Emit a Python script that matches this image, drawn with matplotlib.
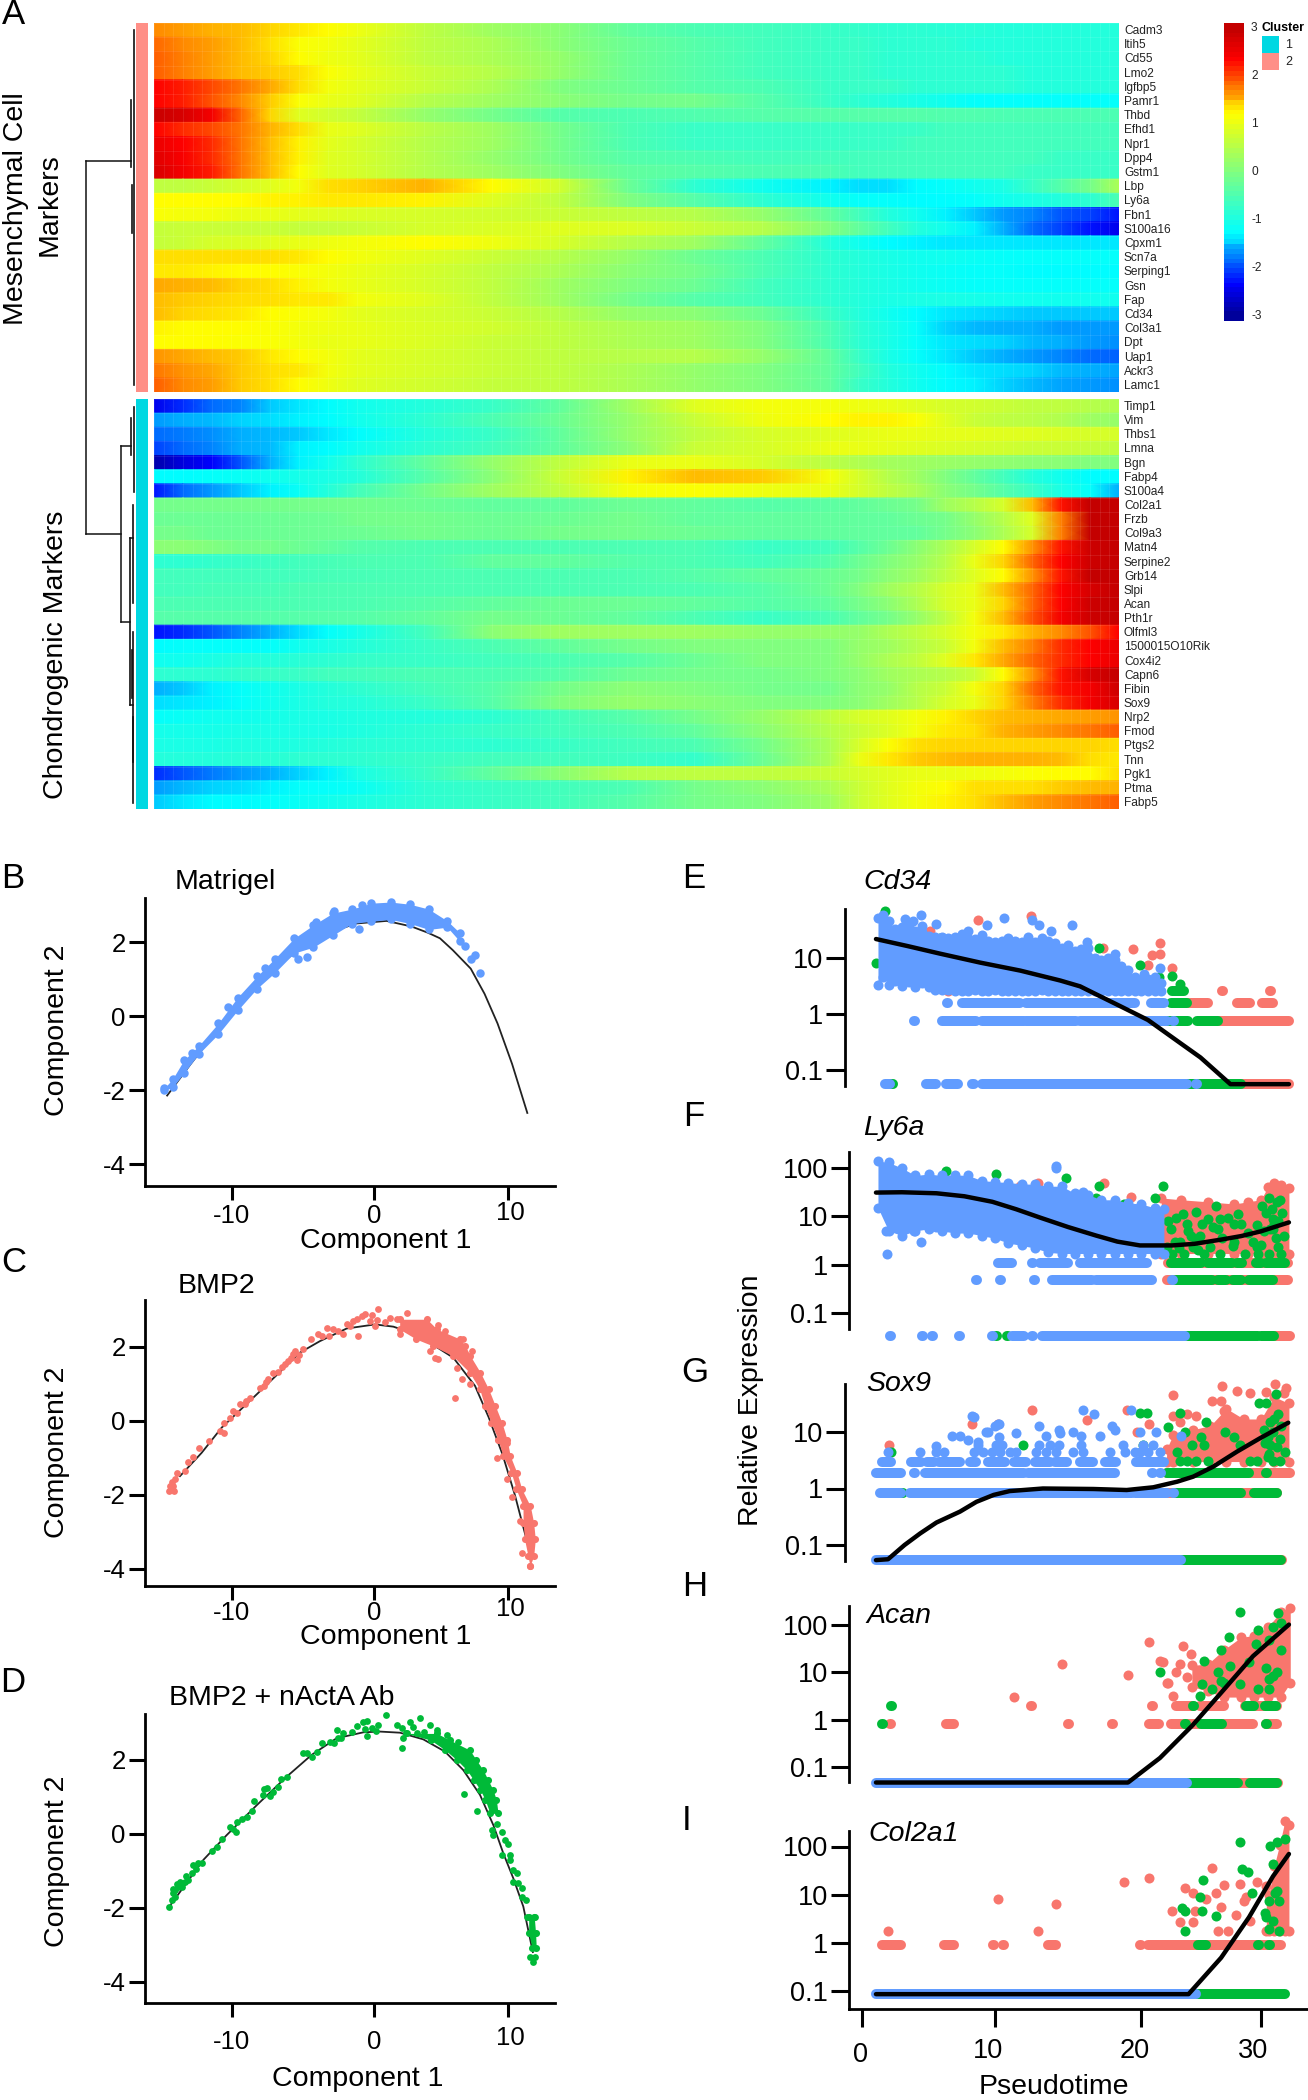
import numpy as np
import matplotlib
matplotlib.use('agg')
from matplotlib import pyplot as plt
from matplotlib.colors import LinearSegmentedColormap, ListedColormap, Normalize

plt.rcParams['font.family'] = ['Liberation Sans', 'DejaVu Sans']

W, H = 1308, 2100
BLUE, RED, GREEN = '#619CFF', '#F8766D', '#00BA38'

# heatmap: values at these cell positions of the 100 pseudotime cells
heat_cells = [0, 3, 6, 9, 12, 15, 18, 21, 28, 35, 42, 49, 56, 63, 70, 73, 76, 79, 82, 85, 88, 91, 94, 97, 100]

genes_top = ['Cadm3', 'Itih5', 'Cd55', 'Lmo2', 'Igfbp5', 'Pamr1', 'Thbd', 'Efhd1', 'Npr1', 'Dpp4', 'Gstm1', 'Lbp', 'Ly6a',
             'Fbn1', 'S100a16', 'Cpxm1', 'Scn7a', 'Serping1', 'Gsn', 'Fap', 'Cd34', 'Col3a1', 'Dpt', 'Uap1', 'Ackr3', 'Lamc1']
genes_bottom = ['Timp1', 'Vim', 'Thbs1', 'Lmna', 'Bgn', 'Fabp4', 'S100a4', 'Col2a1', 'Frzb', 'Col9a3', 'Matn4', 'Serpine2',
                'Grb14', 'Slpi', 'Acan', 'Pth1r', 'Olfml3', '1500015O10Rik', 'Cox4i2', 'Capn6', 'Fibin', 'Sox9', 'Nrp2',
                'Fmod', 'Ptgs2', 'Tnn', 'Pgk1', 'Ptma', 'Fabp5']

heat_top = [
    [1.75,1.65,1.55,1.5,1.4,1.3,1.2,1.05,0.6,0.3,0.1,-0.3,-0.5,-0.6,-0.7,-0.75,-0.8,-0.8,-0.85,-0.85,-0.9,-0.9,-0.9,-0.9,-0.9],
    [1.9,1.75,1.65,1.5,1.35,1.15,1.1,0.95,0.6,0.4,0.1,-0.2,-0.4,-0.6,-0.7,-0.7,-0.8,-0.8,-0.8,-0.9,-0.9,-0.9,-0.9,-0.9,-0.9],
    [1.95,1.8,1.65,1.5,1.4,1.2,1.05,0.95,0.6,0.4,0.2,-0.2,-0.4,-0.6,-0.7,-0.7,-0.8,-0.8,-0.8,-0.8,-0.9,-0.9,-0.9,-0.9,-0.9],
    [1.95,1.8,1.65,1.5,1.45,1.35,1.15,1.0,0.7,0.5,0.2,-0.2,-0.4,-0.6,-0.7,-0.7,-0.8,-0.8,-0.8,-0.8,-0.8,-0.9,-0.9,-0.9,-0.9],
    [2.4,2.25,2.05,1.85,1.6,1.35,1.1,0.95,0.7,0.4,0.0,-0.2,-0.4,-0.5,-0.7,-0.7,-0.7,-0.8,-0.8,-0.8,-0.8,-0.9,-0.9,-0.9,-0.9],
    [2.4,2.25,2.0,1.75,1.45,1.15,1.0,0.9,0.5,0.3,0.1,-0.1,-0.1,-0.4,-0.7,-0.8,-0.9,-1.0,-1.1,-1.2,-1.2,-1.2,-1.2,-1.2,-1.2],
    [2.95,2.8,2.5,1.9,1.4,0.9,0.75,0.65,0.2,-0.1,-0.4,-0.5,-0.45,-0.4,-0.4,-0.4,-0.4,-0.4,-0.45,-0.45,-0.5,-0.5,-0.5,-0.5,-0.5],
    [2.4,2.2,2.05,1.85,1.55,1.35,1.0,0.9,0.55,0.3,-0.1,-0.5,-0.7,-0.7,-0.7,-0.7,-0.7,-0.7,-0.6,-0.6,-0.6,-0.6,-0.6,-0.6,-0.6],
    [2.6,2.4,2.2,1.85,1.5,1.25,0.95,0.8,0.5,0.3,-0.1,-0.5,-0.7,-0.7,-0.7,-0.7,-0.7,-0.6,-0.6,-0.6,-0.6,-0.6,-0.6,-0.6,-0.6],
    [2.7,2.45,2.2,1.85,1.5,1.25,0.9,0.8,0.5,0.2,-0.1,-0.4,-0.5,-0.6,-0.6,-0.6,-0.6,-0.6,-0.6,-0.6,-0.6,-0.6,-0.7,-0.7,-0.7],
    [2.8,2.5,2.25,1.85,1.5,1.2,0.9,0.8,0.5,0.3,0.0,-0.3,-0.4,-0.5,-0.5,-0.6,-0.6,-0.6,-0.6,-0.6,-0.6,-0.7,-0.7,-0.7,-0.7],
    [0.6,0.6,0.7,0.8,0.9,1.1,1.35,1.4,1.55,1.2,0.75,-0.2,-0.8,-1.1,-1.3,-1.4,-1.4,-1.25,-1.2,-1.1,-1.0,-0.7,-0.4,-0.1,0.4],
    [1.2,1.2,1.2,1.2,1.25,1.25,1.3,1.3,1.25,0.9,0.6,0.0,-0.4,-0.8,-1.1,-1.2,-1.2,-1.25,-1.25,-1.2,-1.1,-1.0,-0.9,-0.8,-0.5],
    [1.15,1.1,1.1,1.0,1.0,0.95,0.9,0.85,0.8,0.75,0.7,0.6,0.5,0.2,-0.3,-0.6,-0.9,-1.1,-1.3,-1.5,-1.7,-1.8,-2.0,-2.1,-2.3],
    [0.65,0.7,0.7,0.7,0.7,0.65,0.65,0.7,0.8,0.85,0.9,0.85,0.7,0.5,0.0,-0.3,-0.6,-0.9,-1.1,-1.3,-1.6,-1.9,-2.1,-2.3,-2.5],
    [0.65,0.7,0.8,0.85,0.9,1.0,1.05,1.1,1.2,1.05,0.8,0.5,0.3,-0.3,-0.9,-1.1,-1.25,-1.3,-1.35,-1.35,-1.35,-1.35,-1.35,-1.35,-1.35],
    [1.35,1.35,1.35,1.35,1.35,1.3,1.2,1.1,0.9,0.7,0.5,0.2,-0.2,-0.5,-0.8,-0.9,-1.0,-1.1,-1.1,-1.15,-1.2,-1.2,-1.2,-1.2,-1.2],
    [1.3,1.3,1.25,1.2,1.2,1.15,1.1,1.0,0.8,0.6,0.4,0.1,-0.1,-0.5,-0.8,-0.9,-1.0,-1.1,-1.15,-1.2,-1.2,-1.25,-1.25,-1.25,-1.25],
    [1.6,1.55,1.5,1.4,1.35,1.25,1.1,1.0,0.8,0.6,0.3,0.0,-0.2,-0.6,-0.8,-0.9,-1.0,-1.1,-1.15,-1.2,-1.2,-1.2,-1.2,-1.2,-1.2],
    [1.5,1.45,1.4,1.35,1.35,1.3,1.3,1.1,0.9,0.6,0.3,-0.1,-0.4,-0.6,-0.8,-0.9,-1.0,-1.0,-1.0,-1.05,-1.1,-1.1,-1.1,-1.1,-1.1],
    [1.5,1.4,1.35,1.3,1.2,1.15,1.1,0.95,0.8,0.7,0.5,0.2,0.1,-0.2,-0.7,-0.9,-1.1,-1.25,-1.35,-1.4,-1.45,-1.5,-1.5,-1.5,-1.5],
    [1.25,1.2,1.2,1.2,1.15,1.1,1.05,1.0,0.85,0.75,0.6,0.4,0.3,0.0,-0.5,-0.8,-1.0,-1.2,-1.45,-1.55,-1.6,-1.6,-1.7,-1.7,-1.7],
    [1.2,1.2,1.2,1.15,1.15,1.1,1.0,1.0,0.85,0.7,0.6,0.4,0.3,0.0,-0.5,-0.8,-1.0,-1.2,-1.35,-1.4,-1.45,-1.55,-1.6,-1.7,-1.75],
    [1.7,1.6,1.5,1.45,1.3,1.2,1.1,0.95,0.8,0.7,0.6,0.5,0.5,0.2,-0.3,-0.7,-1.0,-1.2,-1.35,-1.5,-1.6,-1.7,-1.8,-1.9,-1.95],
    [1.85,1.7,1.6,1.45,1.35,1.3,1.1,0.95,0.8,0.7,0.6,0.4,0.2,0.0,-0.3,-0.6,-0.9,-1.1,-1.25,-1.35,-1.4,-1.45,-1.55,-1.6,-1.65],
    [1.95,1.75,1.65,1.45,1.35,1.2,1.05,0.9,0.75,0.65,0.6,0.4,0.2,0.0,-0.3,-0.7,-0.9,-1.1,-1.25,-1.3,-1.45,-1.55,-1.65,-1.7,-1.75],
]
heat_bottom = [
    [-2.5,-2.2,-1.9,-1.8,-1.5,-1.35,-1.25,-1.1,-0.9,-0.7,-0.3,0.3,0.9,1.1,1.1,1.05,1.0,0.9,0.8,0.75,0.7,0.6,0.6,0.5,0.45],
    [-1.7,-1.6,-1.55,-1.45,-1.4,-1.3,-1.25,-1.1,-0.8,-0.5,-0.2,0.2,0.7,1.05,1.2,1.25,1.25,1.15,0.9,0.7,0.6,0.55,0.45,0.3,0.2],
    [-1.9,-1.85,-1.75,-1.6,-1.55,-1.5,-1.35,-1.25,-0.9,-0.7,-0.3,0.2,0.6,0.8,0.9,0.95,1.0,1.0,0.95,0.95,0.9,0.9,0.85,0.8,0.8],
    [-2.1,-1.9,-1.8,-1.6,-1.55,-1.3,-1.25,-1.1,-0.8,-0.6,-0.3,0.1,0.7,0.8,1.0,1.0,0.95,0.9,0.85,0.8,0.75,0.7,0.7,0.65,0.6],
    [-2.9,-2.6,-2.4,-2.0,-1.6,-1.3,-1.1,-0.8,-0.3,0.2,0.6,1.0,1.0,0.8,0.55,0.45,0.35,0.3,0.25,0.2,0.15,0.1,0.1,0.0,0.0],
    [-1.25,-1.25,-1.2,-1.15,-1.1,-1.05,-1.0,-0.9,-0.4,0.1,0.7,1.25,1.5,1.45,1.1,0.8,0.5,0.3,0.0,-0.3,-0.6,-0.9,-1.1,-1.25,-1.25],
    [-2.3,-1.9,-1.7,-1.5,-1.3,-1.15,-0.9,-0.6,-0.1,0.3,0.6,1.1,1.15,1.05,1.0,0.8,0.6,0.4,0.1,-0.1,-0.4,-0.7,-1.0,-1.2,-1.6],
    [-0.1,-0.1,-0.1,-0.1,-0.1,-0.1,-0.1,-0.1,-0.2,-0.3,-0.3,-0.2,-0.3,-0.4,-0.35,-0.3,-0.2,-0.1,0.3,0.5,0.8,1.5,2.3,3.0,3.0],
    [-0.2,-0.2,-0.2,-0.2,-0.2,-0.2,-0.2,-0.1,-0.1,-0.2,-0.2,-0.1,-0.3,-0.3,-0.3,-0.3,-0.3,-0.2,-0.1,0.2,0.5,0.9,1.8,3.0,3.0],
    [-0.1,-0.1,-0.2,-0.2,-0.2,-0.2,-0.2,-0.2,-0.1,-0.2,-0.1,-0.1,-0.2,-0.3,-0.3,-0.3,-0.3,-0.3,-0.1,0.1,0.4,0.8,1.8,3.0,3.0],
    [0.1,0.1,0.0,-0.1,-0.1,-0.2,-0.3,-0.4,-0.5,-0.5,-0.5,-0.5,-0.5,-0.7,-0.6,-0.4,-0.2,0.1,0.4,0.8,1.2,1.7,2.3,2.9,3.0],
    [-0.8,-0.8,-0.75,-0.7,-0.65,-0.6,-0.55,-0.5,-0.5,-0.3,-0.3,-0.4,-0.5,-0.6,-0.4,-0.2,0.0,0.2,0.5,1.0,1.4,1.9,2.4,2.9,3.0],
    [-0.6,-0.6,-0.6,-0.6,-0.6,-0.6,-0.55,-0.55,-0.5,-0.5,-0.5,-0.5,-0.4,-0.3,-0.2,-0.1,0.1,0.3,0.6,0.9,1.2,1.7,2.3,3.0,3.0],
    [-0.6,-0.6,-0.55,-0.55,-0.55,-0.5,-0.5,-0.5,-0.5,-0.5,-0.5,-0.5,-0.5,-0.4,-0.2,0.0,0.3,0.5,0.8,1.0,1.5,1.9,2.4,2.8,3.0],
    [-0.5,-0.5,-0.5,-0.5,-0.5,-0.5,-0.5,-0.5,-0.4,-0.3,-0.2,-0.2,-0.3,-0.4,-0.3,-0.1,0.1,0.4,0.8,1.0,1.4,1.9,2.4,2.9,3.0],
    [-0.4,-0.4,-0.4,-0.4,-0.4,-0.4,-0.4,-0.4,-0.3,-0.1,-0.2,-0.3,-0.5,-0.7,-0.5,-0.3,-0.1,0.2,0.6,1.1,1.5,2.0,2.5,2.9,3.0],
    [-2.3,-2.2,-2.0,-1.8,-1.6,-1.4,-1.2,-1.05,-0.6,0.1,0.3,0.3,0.3,0.2,0.2,0.2,0.4,0.6,0.8,1.1,1.3,1.55,1.75,2.0,2.4],
    [-1.25,-1.2,-1.2,-1.2,-1.2,-1.1,-1.0,-0.9,-0.7,-0.5,-0.3,-0.1,0.0,0.0,0.0,0.2,0.3,0.5,0.7,1.1,1.5,1.8,2.2,2.4,2.6],
    [-1.1,-1.1,-1.0,-0.9,-0.9,-0.85,-0.8,-0.75,-0.7,-0.6,-0.5,-0.4,-0.2,0.0,0.0,0.2,0.4,0.6,0.9,1.3,1.6,1.9,2.2,2.4,2.6],
    [-0.8,-0.8,-0.8,-0.75,-0.7,-0.7,-0.6,-0.6,-0.5,-0.5,-0.4,-0.2,-0.1,-0.1,0.0,0.1,0.3,0.4,0.5,0.7,1.2,1.7,2.3,2.8,3.0],
    [-1.6,-1.5,-1.3,-1.2,-1.1,-1.0,-0.9,-0.8,-0.6,-0.4,-0.1,0.1,0.0,-0.1,-0.1,0.1,0.2,0.5,0.7,1.1,1.4,1.9,2.3,2.5,2.9],
    [-1.4,-1.35,-1.3,-1.2,-1.1,-1.0,-0.9,-0.9,-0.7,-0.4,0.0,0.2,0.1,0.0,0.0,0.1,0.3,0.5,0.8,1.0,1.4,1.8,2.2,2.5,2.8],
    [-1.2,-1.15,-1.1,-1.1,-1.05,-1.0,-1.0,-0.95,-0.9,-0.8,-0.6,-0.4,-0.1,0.2,0.6,0.8,0.9,1.1,1.25,1.4,1.5,1.55,1.6,1.65,1.7],
    [-1.05,-1.05,-1.05,-1.0,-1.0,-1.0,-1.0,-0.95,-0.8,-0.7,-0.6,-0.5,-0.3,0.1,0.5,0.7,0.85,1.1,1.3,1.35,1.55,1.65,1.75,1.85,1.95],
    [-1.0,-1.0,-1.0,-0.95,-0.95,-0.95,-0.9,-0.85,-0.8,-0.8,-0.7,-0.6,-0.5,-0.1,0.4,0.8,1.15,1.35,1.4,1.4,1.4,1.4,1.4,1.4,1.35],
    [-0.9,-0.9,-0.9,-0.85,-0.85,-0.8,-0.8,-0.8,-0.7,-0.6,-0.6,-0.65,-0.75,-0.2,0.4,1.0,1.3,1.45,1.5,1.55,1.55,1.55,1.5,1.35,1.3],
    [-2.2,-2.0,-1.85,-1.7,-1.6,-1.45,-1.3,-1.0,-0.7,-0.3,0.1,0.5,0.6,0.6,0.7,0.8,0.9,1.0,1.0,1.05,1.1,1.15,1.2,1.2,1.35],
    [-1.7,-1.55,-1.45,-1.4,-1.3,-1.2,-1.2,-1.15,-0.8,-0.7,-0.6,-0.5,-0.1,0.1,0.4,0.7,0.9,1.1,1.2,1.35,1.35,1.35,1.45,1.5,1.55],
    [-1.5,-1.35,-1.25,-1.25,-1.2,-1.15,-1.1,-1.0,-0.8,-0.7,-0.6,-0.4,-0.1,0.0,0.3,0.7,0.9,1.1,1.25,1.35,1.5,1.65,1.75,1.85,1.95],
]

# trajectory panels
traj_curve_x = [-14.7,-13,-11,-9,-7,-5,-3,-1,1.2,3,4.2,5.07,6,7.3,8.3,9.24,10.3,11.4]
traj_curve_y = [-2.15,-1.3,-0.35,0.5,1.25,1.85,2.25,2.5,2.57,2.42,2.25,2.1,1.78,1.28,0.6,-0.2,-1.3,-2.62]
matrigel_x = [-14.9,-14.3,-13.5,-12.4,-11.0,-9.6,-8.2,-6.9,-5.5,-4.1,-2.7,-1.3,0.1,1.5,2.9,4.25,5.6,6.5]
matrigel_hi = [-1.95,-1.7,-1.2,-0.8,-0.2,0.5,1.07,1.55,2.1,2.46,2.78,2.89,3.05,3.08,3.02,2.89,2.57,2.25]
matrigel_lo = [-2.0,-1.93,-1.55,-1.02,-0.49,0.15,0.74,1.17,1.7,1.86,2.18,2.5,2.56,2.61,2.5,2.34,2.4,2.02]
matrigel_extra_x = [6.9,7.3,7.6,8.0,-5.2,-4.6,-3.9,-2.6,-0.6,-0.8,-7.6,-10.3,-12.9]
matrigel_extra_y = [1.9,1.55,1.65,1.15,1.55,1.6,2.55,2.85,3.0,2.35,1.3,0.25,-1.0]

bmp2_curve_x = [-13.77,-12.2,-10.75,-8.21,-5.07,-3.62,-1.69,0.36,1.69,3.38,6.04,7.61,8.6,9.6,10.5,11.2,11.7]
bmp2_curve_y = [-1.49,-0.86,-0.18,0.72,1.85,2.16,2.5,2.61,2.55,2.34,1.71,0.95,0.1,-0.9,-2.0,-3.0,-3.7]
bmp2_x = [-14.54,-14.3,-14.1,-14.0,-13.4,-13.2,-12.8,-12.4,-11.7,-10.9,-10.6,-10.6,-10.15,-9.65,-9.4,-9.05,-8.7,-7.7,-7.4,-7.0,
          -6.65,-6.15,-5.7,-5.45,-5.3,-4.85,-4.25,-3.75,-3.15,-3.0,-2.3,-1.95,-1.45,-0.85,-0.95,-0.35,0,0.6,0.5,0.35,1.45,2.2,
          2.65,1.95,3.86,4.95,5.43,6.76,7.37,4.35,4.71,4.95,6.16,6.64,7.25,6.28,9.9,9.18,9.9,10.27,10.87,10.99,-14.5,-14.2,-14.35,
          -9.9,-8.95,-7.95,-7.55,-6.4,-5.95,-5.6,-5.15,-3.45,-2.65,-1.65,-1.2,-0.6,0.15,1.1]
bmp2_y = [-1.89,-1.76,-1.58,-1.41,-1.35,-1.10,-0.97,-0.72,-0.54,-0.27,-0.32,-0.05,0.09,0.21,0.45,0.45,0.63,0.95,1.13,1.31,
          1.32,1.53,1.71,1.89,1.65,1.94,2.21,2.34,2.52,2.30,2.43,2.34,2.57,2.30,2.75,2.88,2.70,3.02,2.73,2.57,2.79,2.34,
          2.93,2.75,2.66,2.59,2.43,2.21,1.89,1.89,1.71,1.68,0.63,1.13,0.99,1.44,-0.59,-0.99,-1.58,-2.05,-2.7,-3.56,-1.75,-1.9,-1.65,
          0.28,0.55,0.88,1.05,1.45,1.62,1.8,1.78,2.3,2.5,2.62,2.7,2.84,2.86,2.68]
bmp2_band_y = [2.75,2.48,2.21,2.03,1.76,1.31,0.86,0.41,-0.05,-0.5,-0.95,-1.40,-1.85,-2.3,-2.75,-3.2,-3.65,-3.92]
bmp2_band_l = [2.15,2.15,3.36,4.56,6.0,7.22,7.95,8.31,8.79,9.28,9.64,10.24,10.6,11.09,11.09,11.2,11.45,11.59]
bmp2_band_r = [4.13,4.86,6.55,6.91,7.27,8.0,8.6,9.08,9.57,9.93,10.17,10.65,11.01,11.62,11.86,11.98,11.86,11.59]

nacta_curve_x = [-14.54,-12.08,-10.39,-8.21,-6.04,-4.23,-2.42,-0.48,0.72,2.17,3.86,5.43,6.76,7.97,8.94,9.66,10.39,11.11,11.8]
nacta_curve_y = [-1.97,-0.71,-0.04,0.77,1.54,2.13,2.58,2.74,2.76,2.73,2.55,2.22,1.72,1.05,0.23,-0.53,-1.21,-1.97,-3.2]
nacta_x = [-14.54,-14.37,-14.25,-14.13,-13.89,-13.77,-13.41,-13.16,-12.92,-12.8,-12.44,-12.2,-11.47,-11.11,-10.75,-10.14,-9.9,
           -9.71,-9.66,-9.3,-8.94,-8.57,-8.41,-7.73,-7.49,-7.05,-6.64,-6.47,-6.04,-4.83,-4.59,-4.23,-3.82,-3.5,-2.9,-2.61,-2.29,
           -2.37,-1.93,-1.33,-0.92,-0.48,-0.19,-0.24,0.12,0.6,1.16,1.93,2.29,2.9,3.62,2.42,2.34,3.38,4.35,4.83,5.56,6.4,6.84,
           7.73,9.18,8.94,9.54,10.02,9.54,10.14,10.63,10.39,10.99,11.3,11.35,11.96,8.82,9.78,10.14,10.39,10.75,10.99,11.6,11.96,11.84,
           -14.1,-14.3,-13.95,-13.6,-13.3,-12.6,-7.65,-7.25,-2.1,-0.35,0.4,2.7,3.1,3.9,4.6]
nacta_y = [-1.97,-1.79,-1.61,-1.52,-1.43,-1.30,-1.30,-1.25,-1.07,-0.85,-0.80,-0.78,-0.46,-0.35,-0.14,0.19,0.14,
           0.05,0.32,0.40,0.46,0.61,0.88,1.05,1.23,1.14,1.27,1.47,1.54,2.19,2.17,2.08,2.22,2.44,2.49,2.44,2.58,
           2.80,2.73,2.76,2.91,3.03,3.05,2.64,2.85,2.94,3.21,2.94,2.85,3.03,3.12,2.58,2.31,2.71,2.94,2.80,2.67,2.49,1.07,
           0.61,0.26,-0.04,0.05,-0.28,-0.58,-0.58,-1.07,-1.30,-1.48,-1.79,-2.24,-2.24,0.10,-0.17,-0.71,-0.98,-1.34,-1.70,-3.32,-3.32,-3.46,
           -1.7,-1.5,-1.35,-1.45,-1.15,-0.95,1.2,1.02,2.6,2.82,2.78,2.72,2.88,2.75,2.62]
nacta_band_y = [2.71,2.53,2.26,1.99,1.72,1.45,1.18,0.91,0.55]
nacta_band_l = [2.63,4.4,5.45,6.3,7.02,7.51,8.0,8.35,8.7]
nacta_band_r = [4.86,5.78,7.23,7.71,8.2,8.56,8.92,9.16,9.28]
nacta_band2_y = [-2.24,-2.69,-3.1]
nacta_band2_l = [11.5,11.5,11.75]
nacta_band2_r = [11.9,12.0,12.05]

# expression panels: rows are (level, x0, x1)
cd34_curve_x = [1.05,3.46,5.87,8.9,11.9,14.9,16.4,17.6,19.4,21.5,24,25.45,27.7,29,32.1]
cd34_curve_y = [21.3,15.9,11.7,8.1,5.85,3.9,3.07,2.22,1.37,0.775,0.293,0.167,0.056,0.056,0.056]
cd34_cloud_x = [1.2,1.6,2,2.5,3,3.5,4,4.5,5,5.5,6,6.5,7,7.5,8,8.5,9,9.5,10,10.5,11,11.5,12,12.5,13,13.5,14,14.5,15,15.5,16,16.5,17,17.5,18,18.5,19,19.5,20,20.5,21,21.5,22,22.5]
cd34_cloud_hi = [50,57,45,32,35,38,30,28,24,23,23,22,23,26,30,21,25,20,19,20,22,20,19,23,19,22,20,18,15,17,13,14,15,10,9,10,9,7,6,4.5,4,4.2,4.5,3.5]
cd34_cloud_lo = [3.3,4.5,3.3,3.8,3.1,3.6,3,3.5,3,2.6,2.6,2.6,2.5,2.5,2.5,2.6,2.5,2.5,2.6,2.5,2.5,2.5,2.5,2.5,2.5,2.6,2.5,2.5,2.5,2.5,2.5,2.5,2.5,2.5,2.5,2.5,2.5,2.5,2.5,2.5,2.5,2.5,2.5,2.5]
cd34_blue_rows = [(0.057,1.7,2.1),(0.057,4.8,5.6),(0.057,6.3,7.2),(0.057,8.3,8.4),(0.057,9.0,24.4),(0.057,25.1,25.2),
                  (0.75,3.9,3.95),(0.75,6.0,8.6),(0.75,9.0,12.2),(0.75,12.3,16.1),(0.75,16.4,22.9),(0.75,23.4,23.45),
                  (1.57,2.6,2.65),(1.57,6.4,6.45),(1.57,7.5,11.9),(1.57,12.3,20.5),(1.57,20.8,20.85),(1.57,21.7,22.7)]
cd34_green_rows = [(0.057,2.2,2.3),(0.057,24.4,28.5),(0.75,22.9,24.5),(0.75,25.2,26.8),(1.57,23.2,24.4),(2.5,23.3,24.2)]
cd34_red_rows = [(0.057,28.5,32.1),(0.75,26.8,32.1),(1.57,24.4,26.05),(1.57,26.9,26.95),(1.57,28.2,29.2),(1.57,30.1,30.9),(2.5,27.1,27.15),(2.5,30.7,30.75)]
cd34_blue_x = [4.4,5.6,3.2,3.8,4.5,9.4,10.7,12.8,13.3,14.2,15.8,16.9,19,19.4,21.2,22.4]
cd34_blue_y = [57,40,48,45,37,38,50,46,38,29,38,19,11.4,6,5,6.4]
cd34_red_x = [8.7,12.7,18.1,20.4,22.4,21.8,22.4,21.5,23.3,20.6,5.1,6.5,4.1]
cd34_red_y = [47,55,15,14,18,11,11.4,7.5,6.4,4,30,2.5,4.6]
cd34_green_x = [1.7,17.8,20.9,23.3,23.9,22.3,21.1,1.05,5.9]
cd34_green_y = [68,15,7.5,4.6,3.4,4.5,3.8,8,22]

ly6a_curve_x = [1.05,3,5.6,7.7,9.8,11.6,13.4,15.5,17.6,19.2,20.9,23.3,25,27,28.5,30,32.1]
ly6a_curve_y = [31,31.5,30,26,20,14,9.4,6,4,3,2.5,2.5,2.7,3.3,3.9,4.9,7.5]
ly6a_cloud_x = [1.2,2,3,4,5,6,7,8,9,10,11,12,13,14,15,16,17,18,19,20,21,22,22.7]
ly6a_cloud_hi = [140,130,100,70,75,70,72,70,55,52,50,47,46,42,42,30,28,22,22,19,18,15,14]
ly6a_cloud_lo = [15,5,4,5,5.5,5,4.5,4.5,4,3.5,2.8,2.5,2.2,1.8,1.7,1.7,1.7,1.7,1.7,1.7,1.7,1.7,1.7]
ly6a_red_cloud_x = [22.5,24,26,28,29,30,30.5,31,31.5,32.1]
ly6a_red_cloud_hi = [24,22,20,18,20,22,40,48,45,38]
ly6a_red_cloud_lo = [1.7,1.7,1.7,1.7,1.7,1.7,1.7,1.7,1.7,1.7]
ly6a_blue_rows = [(1.08,10.2,11.3),(1.08,12.8,12.85),(1.08,13.4,15.5),(1.08,16.4,21.4),(1.08,22.3,22.35),
                  (0.49,8.6,8.65),(0.49,10.4,10.45),(0.49,12.95,13.0),(0.49,14.3,17.3),(0.49,17.6,21.8),(0.49,22.3,22.35),(0.49,23.3,23.35),
                  (0.034,2.1,2.15),(0.034,4.5,4.55),(0.034,5.3,5.35),(0.034,7.3,7.35),(0.034,9.8,9.85),(0.034,11.3,12.2),(0.034,12.8,12.85),(0.034,13.55,24.25),(0.034,25.1,25.15)]
ly6a_green_rows = [(1.08,10.85,10.9),(1.08,23.2,25.5),(1.08,26,27.8),(1.08,28.2,28.6),(1.08,29.6,30),(1.08,30.4,31.8),
                   (0.49,13.2,13.25),(0.49,23.6,26.35),(0.49,26.8,27.4),(0.49,27.9,28.5),(0.49,29.1,30.9),
                   (0.034,10.1,10.15),(0.034,10.9,10.95),(0.034,24.4,29.8),(0.034,30,31)]
ly6a_red_rows = [(1.08,23,32),(0.49,22.9,32),(0.034,31,32.2)]
ly6a_red_x = [11.9,13.2,18.2,20.2]
ly6a_red_y = [42,50,50,25]
ly6a_blue_x = [14.6,16.6,1.9,4.4,1.8,3.9,5.6,14.6]
ly6a_blue_y = [110,32,1.7,3,5,5,6,100]
ly6a_green_x = [23.2,23.6,23.9,24.4,24.85,25.15,25.45,25.75,26.05,26.65,26.8,26.95,27.55,28,28.5,28.8,29.7,29.8,30.1,30.6,30.7,31.2,31.3,31.5,30.6,30.9,23.3,24.2,30.9,31.3,29.7,23.5,22.9,24.7,
                22.6,17.8,15.35,10.1,6.3,22,19.7,17.6,20.8,21.4,
                23,23.8,24.5,25.1,25.6,26.2,26.4,27.1,27.9,28.3,29,29.4,30,30.4,30.8,31,31.6,31.4,24.1,25.3,26.9,28,30.2,31.1,31.7]
ly6a_green_y = [5.4,9.4,3,7.1,2.3,12.5,4,1.7,9,16.6,5.4,1.7,9.4,3,7.1,1.7,2.3,1.7,16,24,5.4,20,2.3,1.7,1.7,5.4,1.7,1.7,9,8,6.5,3,2.3,4,
                42,42,62,75,85,24,18,24,6.5,5.5,
                8,2.2,5,3.2,7,2.3,6,3.5,2.4,11,4.5,3,2.5,12,14,7,12,22,11,2,9,7,5,3.5,4]

sox9_curve_x = [1.05,1.96,3.2,4.37,5.6,7.37,8.6,9.9,11.1,13.6,17.4,19.9,21.9,23.7,24.9,26.4,28.2,29.9,32.05]
sox9_curve_y = [0.054,0.056,0.1,0.16,0.25,0.39,0.58,0.77,0.9,1.0,0.98,0.94,1.05,1.32,1.62,2.43,4.5,7.7,14.6]
sox9_red_cloud_x = [22.9,23.4,24.9,26.2,27.4,28.7,30,31,32.1]
sox9_red_cloud_hi = [5,9,11,13,26,17,17,42,32]
sox9_red_cloud_lo = [3,3,3,3,3,3,3,3,3]
sox9_blue_rows = [(0.054,1.05,24.0),(0.054,25.1,25.15),
                  (0.84,1.35,2.9),(0.84,3.6,20.3),(0.84,20.5,22.9),(0.84,23.4,23.45),
                  (1.9,1.05,2.9),(1.9,3.9,3.95),(1.9,4.7,12.2),(1.9,12.5,19),(1.9,19.6,19.65),(1.9,20.5,20.55),(1.9,21.8,21.85),(1.9,22.4,22.45),
                  (3.0,1.5,2.2),(3.0,3.7,4.4),(3.0,4.9,5.4),(3.0,5.8,7.4),(3.0,8.1,8.6),(3.0,9.5,10.75),(3.0,11.4,12.3),(3.0,13.0,14.1),(3.0,14.5,15.4),(3.0,16.4,17.4),(3.0,18.3,19.1),(3.0,20.6,22.7)]
sox9_green_rows = [(0.054,24,31.5),(0.84,3,3.05),(0.84,23.6,28.5),(0.84,29.5,31.2),(1.9,22.9,29.1),(1.9,30.4,30.45)]
sox9_red_rows = [(0.054,31,31.6),(0.84,22.9,31.2),(1.9,22.9,32.2)]
sox9_blue_x = [1.96,4.37,5.6,6.2,6.8,7.4,5.6,8,8.4,8.7,9.5,10.2,8.3,9.3,10,10.3,10.3,11.6,13.3,13.8,14.8,14.9,15.85,16.6,17.45,16.5,17.9,18.8,19,20.9,22.1,20.2,24,
               8.4,9.1,9.75,10.4,11.1,11.6,13.1,13.8,14.6,15.9,16.6,18.65,19.8,20.5,20.9,21.5,22.4,8.75,10.1,10.5,13.3,14.1,14.8,16.5,19.65,21.15,21.9]
sox9_blue_y = [4.4,4.4,5.7,4.4,8.4,8.4,4.4,7.1,18.7,6.7,9.8,14,19,10,13,14,8.3,9.7,13,8.5,11,9.7,9.8,25,21,8.5,8.5,13,11,9.8,9.8,25,8.5,
               4.5,4.5,4.5,4.5,4.5,4.5,4.5,4.5,4.5,4.5,4.5,4.5,4.5,4.5,4.5,4.5,4.5,5.9,5.9,5.9,5.9,5.9,5.9,5.9,5.9,5.9,5.9]
sox9_red_x = [23.4,27.1,28.2,29.2,26.3,31.05,30.4,12.8,8.3,16.9,19.9,21.6,20.65,23.4,24.4,25.1,23.9,27,27.2,2.0,10.2,31.7,31.9]
sox9_red_y = [45,65,53,50,35,70,52,25,14,16,25,14,10,19,21,19,15,36,24,6,14,50,60]
sox9_green_x = [23,23.9,24.3,23.7,23.9,24.4,24.8,25.1,25.5,25.7,26,25.9,27.3,28,28.4,29.2,29.7,29.85,30.4,31.1,31.3,30.7,30.2,30.55,31.4,30.7,31.8,30.9,30.6,31.4,20.9,21.4,12.1,21.1,2.2,
                31,31.5,30.9,30.3,31.2,30.5]
sox9_green_y = [12.4,22,10.1,4.5,3.07,3.07,5.9,3.07,8.3,5.9,3.07,15,10.1,8.3,5.9,3.07,3.07,32,32,48,21,15,11,8.3,7.5,5.9,4.5,3.07,4,3.07,22,22,5.9,5.9,4.4,
                17,13,10,6.5,5.5,3.6]

acan_curve_x = [1.05,20,22.4,24.85,27,29.4,32.1]
acan_curve_y = [0.047,0.047,0.155,0.76,3.7,22,102]
acan_red_cloud_x = [24.8,26,27.2,28.5,29.5,30.5,31.5,32.2]
acan_red_cloud_hi = [14,15,30,55,60,90,190,230]
acan_red_cloud_lo = [5,4,3,3,3,3,3,6]
acan_blue_rows = [(0.047,1.05,24.4),(0.047,25.1,25.15)]
acan_green_rows = [(0.047,24.4,28.3),(0.047,29.2,31.2),(0.8,1.5,1.55),(0.8,22.3,22.35),(0.8,24.3,24.35),(0.8,25.5,27.1),(0.8,30.4,30.45),
                   (1.9,2.2,2.25),(1.9,24.9,24.95),(1.9,28.9,29.5),(1.9,30.3,31.1)]
acan_red_rows = [(0.047,28.3,31.3),(0.8,2.1,2.15),(0.8,6.3,6.9),(0.8,12.3,12.35),(0.8,14.7,14.75),(0.8,15.5,15.55),(0.8,18.8,18.85),(0.8,20.2,20.25),
                 (0.8,21.6,22.3),(0.8,23.2,29.4),(0.8,30.4,31.2),(1.9,12.7,12.75),(1.9,21.8,21.85),(1.9,23.6,24.85),(1.9,25.45,27.25),(1.9,27.8,27.85),(1.9,28.8,31.2)]
acan_red_x = [11.4,15.06,20,21.6,23.4,22.6,22.9,24.1,23.9,24.7,23,22.4,23.6,24.4]
acan_red_y = [3.0,15,8.7,44,3.2,16.4,5.9,36,14.9,24.4,6,17,10,8]
acan_green_x = [28.4,31.3,27.6,27,29.8,22.4,25.75,25.6,25.45,26.3,27,26.8,27.7,28.45,29.1,29.6,29.8,30.6,30.4,30.9,31.2,30.6,30.9,31.5,31.5,30.6,27.25]
acan_green_y = [190,178,57,30,80,10.4,17,5.8,3.2,4.5,6.7,10.4,13.5,5.7,16.4,40,4.5,4.5,12.2,8.2,10,49,89,108,30,7.4,6]

col2a1_curve_x = [1.05,24.55,27,29.1,30.9,32.1]
col2a1_curve_y = [0.086,0.086,0.49,3.4,24,70]
col2a1_red_cloud_x = [30.4,30.6,31,31.4,31.8,32.1]
col2a1_red_cloud_hi = [15,10,40,110,340,280]
col2a1_red_cloud_lo = [1.8,1.8,1.8,1.8,1.8,1.8]
col2a1_blue_rows = [(0.086,1.05,25.15)]
col2a1_green_rows = [(0.086,24.4,31.8),(0.89,7.5,7.55),(0.89,25.3,25.9),(0.89,29.8,29.85),(0.89,30.6,30.65)]
col2a1_red_rows = [(0.89,1.5,2.9),(0.89,6.2,6.9),(0.89,9.85,9.9),(0.89,10.6,10.65),(0.89,11.4,11.45),(0.89,14,14.6),(0.89,17.8,17.85),(0.89,20.9,20.95),(0.89,21.5,31.5)]
col2a1_red_x = [1.96,10.2,13.25,14.6,19.7,21.6,23.3,23.9,24.3,24.9,25,24.85,25.85,26.3,26.65,27,26.8,27.55,27.25,28.15,28.4,28.9,29.2,29.7,28.75]
col2a1_red_y = [1.8,8.2,1.8,6.4,18.7,22.7,4.6,2.7,13.9,11,4.6,2.65,8.2,35.5,11,5.6,1.8,1.8,15.7,3.8,16.3,9,2.8,18,7.5]
col2a1_green_x = [28.4,28.6,29,29.3,25.65,25.45,25.6,26.65,24.05,24.3,24.25,31.2,31.8,30.7,30.9,31.2,30.6,31.35,30.4,30.9,30.6,31.35,30.3,31.05]
col2a1_green_y = [126,34,30,11,20.5,9,4.6,3.6,5.3,4.6,1.8,126,140,104,43,12.2,7.5,7.5,3.4,2.8,1.9,1.8,4.1,11]

fig = plt.figure(figsize=(W / 100, H / 100), dpi=100, facecolor='white')


def add_px_axes(left, top, right, bottom):
    return fig.add_axes([left / W, 1 - bottom / H, (right - left) / W, (bottom - top) / H])


stops = [(-3, '#00009B'), (-2.4, '#0000FF'), (-1.25, '#00FFFF'), (0, '#80FF80'), (1.2, '#FFFF00'), (2.4, '#FF0000'), (3, '#C40000')]
heat_cmap = LinearSegmentedColormap.from_list('heat', [((v + 3) / 6, c) for v, c in stops], N=256)
heat_norm = Normalize(-3, 3)


def draw_heat(rows, top, bottom):
    ax = add_px_axes(154, top, 1119, bottom)
    for i, row in enumerate(rows):
        ax.pcolormesh(heat_cells, [i, i + 1], [row, row], shading='gouraud', cmap=heat_cmap, norm=heat_norm)
    ax.vlines(np.arange(101), 0, len(rows), color='white', lw=0.5, alpha=0.13)
    ax.hlines(np.arange(len(rows) + 1), 0, 100, color='white', lw=0.5, alpha=0.13)
    ax.set_xlim(0, 100)
    ax.set_ylim(len(rows), 0)
    ax.axis('off')


draw_heat(heat_top, 23, 392)
draw_heat(heat_bottom, 399, 809)

# colour bar
cbar_ax = add_px_axes(1224, 23, 1244, 321)
levels = np.linspace(-3.1, 3.1, 63)
cbar_ax.pcolormesh([0, 1], levels, ((levels[:-1] + levels[1:]) / 2)[:, None], cmap=ListedColormap(heat_cmap(np.linspace(0, 1, 62))), norm=heat_norm)
cbar_ax.axis('off')


def style_spines(ax, bottom=True):
    ax.spines['top'].set_visible(False)
    ax.spines['right'].set_visible(False)
    ax.spines['left'].set_linewidth(2.0)
    ax.spines['bottom'].set_linewidth(2.0)
    ax.spines['bottom'].set_visible(bottom)
    ax.patch.set_alpha(0)


def draw_trajectory(top, bottom, y0_px, curve, color, points, bands=(), fill=None):
    ax = add_px_axes(145, top, 555, bottom)
    ax.set_xlim((145 - 370) / 13.8, (555 - 370) / 13.8)
    ax.set_ylim((y0_px - bottom) / 37, (y0_px - top) / 37)
    ax.plot(curve[0], curve[1], color='#222222', lw=1.3, zorder=1)
    if fill is not None:
        ax.fill_between(fill[0], fill[2], fill[1], color=color, lw=0, zorder=2)
        ax.scatter(fill[0], fill[1], s=37, color=color, lw=0, zorder=2)
        ax.scatter(fill[0], fill[2], s=37, color=color, lw=0, zorder=2)
        ax.scatter(points[0], points[1], s=37, color=color, lw=0, zorder=3, clip_on=False)
    else:
        ax.scatter(points[0], points[1], s=24, color=color, lw=0, zorder=3, clip_on=False)
    for y, l, r in bands:
        ax.fill_betweenx(y, l, r, color=color, lw=0, zorder=2)
        ax.scatter(l, y, s=26, color=color, lw=0, zorder=2)
        ax.scatter(r, y, s=26, color=color, lw=0, zorder=2)
    style_spines(ax)
    ax.set_xticks([-10, 0.3, 10], ['', '', ''])
    ax.set_yticks([2, 0, -2, -4], ['2', '0', '-2', '-4'])
    ax.tick_params(axis='y', length=11.5, width=2.2, pad=2.5, labelsize=18.5)
    ax.tick_params(axis='x', length=10, width=2.2)
    return ax


draw_trajectory(898, 1186, 1016, (traj_curve_x, traj_curve_y), BLUE, (matrigel_extra_x, matrigel_extra_y),
                fill=(matrigel_x, matrigel_hi, matrigel_lo))
draw_trajectory(1300, 1586, 1421, (bmp2_curve_x, bmp2_curve_y), RED, (bmp2_x, bmp2_y),
                bands=[(bmp2_band_y, bmp2_band_l, bmp2_band_r)])
draw_trajectory(1714, 2003, 1833.7, (nacta_curve_x, nacta_curve_y), GREEN, (nacta_x, nacta_y),
                bands=[(nacta_band_y, nacta_band_l, nacta_band_r), (nacta_band2_y, nacta_band2_l, nacta_band2_r)])


def draw_rows(ax, rows, color, z):
    for level, x0, x1 in rows:
        ax.plot([x0, x1], [level, level], color=color, lw=7.2, solid_capstyle='round', clip_on=False, zorder=z)


def draw_cloud(ax, x, hi, lo, color, z):
    ax.fill_between(x, lo, hi, color=color, lw=0, clip_on=False, zorder=z)
    ax.scatter(x, hi, s=52, color=color, lw=0, clip_on=False, zorder=z)
    ax.scatter(x, lo, s=52, color=color, lw=0, clip_on=False, zorder=z)


def draw_expression(left, top, bottom, hi_tick, lo_tick, ticks, curve, red_rows, green_rows, blue_rows, red_pts, green_pts, blue_pts=None,
                    red_cloud=None, blue_cloud=None, tick_len=13):
    ax = add_px_axes(left, top, 1307, bottom)
    (v_hi, p_hi), (v_lo, p_lo) = hi_tick, lo_tick
    per_px = (np.log10(v_hi) - np.log10(v_lo)) / (p_lo - p_hi)
    ax.set_yscale('log')
    ax.set_ylim(10 ** (np.log10(v_lo) - (bottom - p_lo) * per_px), 10 ** (np.log10(v_hi) + (p_hi - top) * per_px))
    ax.set_xlim((left - 862) / 13.3, (1307 - 862) / 13.3)
    if red_cloud:
        draw_cloud(ax, *red_cloud, RED, 1)
    draw_rows(ax, red_rows, RED, 1)
    ax.scatter(red_pts[0], red_pts[1], s=52, color=RED, lw=0, clip_on=False, zorder=1)
    draw_rows(ax, green_rows, GREEN, 2)
    ax.scatter(green_pts[0], green_pts[1], s=52, color=GREEN, lw=0, clip_on=False, zorder=2)
    if blue_cloud:
        draw_cloud(ax, *blue_cloud, BLUE, 3)
    draw_rows(ax, blue_rows, BLUE, 3)
    if blue_pts:
        ax.scatter(blue_pts[0], blue_pts[1], s=52, color=BLUE, lw=0, clip_on=False, zorder=3)
    ax.plot(curve[0], curve[1], color='black', lw=3.2, solid_capstyle='round', clip_on=False, zorder=4)
    style_spines(ax, bottom=False)
    ax.set_yticks(ticks, [f'{t:g}' for t in ticks])
    ax.minorticks_off()
    ax.set_xticks([])
    ax.tick_params(axis='y', length=tick_len, width=2.2, pad=2, labelsize=19.5)
    return ax


draw_expression(845, 909, 1086, (10, 957.5), (0.1, 1070), [0.1, 1, 10], (cd34_curve_x, cd34_curve_y),
                cd34_red_rows, cd34_green_rows, cd34_blue_rows, (cd34_red_x, cd34_red_y), (cd34_green_x, cd34_green_y),
                (cd34_blue_x, cd34_blue_y), blue_cloud=(cd34_cloud_x, cd34_cloud_hi, cd34_cloud_lo), tick_len=14)
draw_expression(849, 1152, 1329, (100, 1168), (0.1, 1313), [0.1, 1, 10, 100], (ly6a_curve_x, ly6a_curve_y),
                ly6a_red_rows, ly6a_green_rows, ly6a_blue_rows, (ly6a_red_x, ly6a_red_y), (ly6a_green_x, ly6a_green_y),
                (ly6a_blue_x, ly6a_blue_y), red_cloud=(ly6a_red_cloud_x, ly6a_red_cloud_hi, ly6a_red_cloud_lo),
                blue_cloud=(ly6a_cloud_x, ly6a_cloud_hi, ly6a_cloud_lo))
draw_expression(845, 1384, 1561, (10, 1432), (0.1, 1545), [0.1, 1, 10], (sox9_curve_x, sox9_curve_y),
                sox9_red_rows, sox9_green_rows, sox9_blue_rows, (sox9_red_x, sox9_red_y), (sox9_green_x, sox9_green_y),
                (sox9_blue_x, sox9_blue_y), red_cloud=(sox9_red_cloud_x, sox9_red_cloud_hi, sox9_red_cloud_lo), tick_len=14)
draw_expression(849, 1606, 1782, (100, 1625), (0.1, 1767), [0.1, 1, 10, 100], (acan_curve_x, acan_curve_y),
                acan_red_rows, acan_green_rows, acan_blue_rows, (acan_red_x, acan_red_y), (acan_green_x, acan_green_y),
                red_cloud=(acan_red_cloud_x, acan_red_cloud_hi, acan_red_cloud_lo))
ax_i = draw_expression(849, 1831, 2009, (100, 1846.5), (0.1, 1991), [0.1, 1, 10, 100], (col2a1_curve_x, col2a1_curve_y),
                       col2a1_red_rows, col2a1_green_rows, col2a1_blue_rows, (col2a1_red_x, col2a1_red_y), (col2a1_green_x, col2a1_green_y),
                       red_cloud=(col2a1_red_cloud_x, col2a1_red_cloud_hi, col2a1_red_cloud_lo))
ax_i.spines['bottom'].set_visible(True)
ax_i.set_xticks([0, 10, 21, 30], ['', '', '', ''])
ax_i.tick_params(axis='x', length=13, width=2.2)

# overlay in pixel coordinates for annotation bars, dendrogram and loose text
over = fig.add_axes([0, 0, 1, 1], zorder=10)
over.set_xlim(0, W)
over.set_ylim(H, 0)
over.axis('off')

over.fill_between([136, 148], 23, 392, color='#FF8F87', lw=0)
over.fill_between([136, 148], 399, 809, color='#00D8E2', lw=0)
over.fill_between([1262, 1279], 36, 53, color='#00D8E2', lw=0)
over.fill_between([1262, 1279], 53, 70, color='#FF8F87', lw=0)

dendro_thin = [((131, 161), (86, 161)), ((86, 161), (86, 534)), ((86, 534), (121, 534)), ((121, 446), (121, 622)),
               ((121, 446), (131, 446)), ((121, 622), (130, 622)), ((130, 538), (133, 538)), ((130, 705), (133, 705))]
dendro_dark = [((133.5, 30), (133.5, 385)), ((131, 100), (131, 167)), ((132, 185), (132, 233)), ((131, 418), (131, 455)),
               ((133.5, 407), (133.5, 492)), ((130, 538), (130, 705)), ((133, 505), (133, 603)), ((133, 632), (133, 803)),
               ((132, 650), (132, 698)), ((132.5, 717), (132.5, 762))]
for p, q in dendro_thin:
    over.plot([p[0], q[0]], [p[1], q[1]], color='#111111', lw=1.1)
for p, q in dendro_dark:
    over.plot([p[0], q[0]], [p[1], q[1]], color='#111111', lw=1.2)


def label(x, y, s, size=20.5, **kw):
    kw.setdefault('ha', 'center')
    kw.setdefault('va', 'center')
    over.text(x, y, s, fontsize=size, color=kw.pop('color', 'black'), **kw)


row_h = 369 / 26
for i, gene in enumerate(genes_top):
    label(1124, 24 + row_h * (i + 0.5), gene, size=8.6, ha='left', color='#222222')
row_h = 410 / 29
for i, gene in enumerate(genes_bottom):
    label(1124, 400 + row_h * (i + 0.5), gene, size=8.6, ha='left', color='#222222')

for v, y in zip(['3', '2', '1', '0', '-1', '-2', '-3'], [28, 76, 124, 172, 220, 268, 316]):
    label(1251, y, v, size=8.6, ha='left', color='#222222')
label(1262, 28, 'Cluster', size=9, ha='left', fontweight='bold')
label(1285, 45, '1', size=9, ha='left', color='#222222')
label(1285, 62, '2', size=9, ha='left', color='#222222')

label(16, 209, 'Mesenchymal Cell', rotation=90)
label(50, 205, 'Markers', rotation=90)
label(56, 655, 'Chondrogenic Markers', rotation=90)

for letter, x, y in [('A', 13, 15), ('B', 13, 878), ('C', 14, 1262), ('D', 13, 1683), ('E', 694, 878), ('F', 694, 1116),
                     ('G', 695, 1372), ('H', 695, 1586), ('I', 687, 1820)]:
    label(x, y, letter, size=25)

label(175, 882, 'Matrigel', ha='left')
label(178, 1286, 'BMP2', ha='left')
label(169, 1698, 'BMP2 + nActA Ab', ha='left')
for y in [1030, 1452, 1861]:
    label(57, y, 'Component 2', rotation=90)
for tx, ty, lx, ly in [(1216, 1213, 386, 1241), (1613, 1609, 386, 1637), (2042, 2038, 358, 2079)]:
    label(231, tx, '-10', size=18.5)
    label(374, tx, '0', size=18.5)
    label(510, ty, '10', size=18.5)
    label(lx, ly, 'Component 1')

for x, y, s in [(863, 882, 'Cd34'), (863, 1128, 'Ly6a'), (866, 1384, 'Sox9'), (866, 1616, 'Acan'), (868, 1834, 'Col2a1')]:
    label(x, y, s, ha='left', style='italic')
label(751, 1400, 'Relative Expression', rotation=90)
for x, y, s in [(861, 2055, '0'), (988, 2051, '10'), (1134.5, 2051, '20'), (1253.5, 2051, '30')]:
    label(x, y, s, size=19.5)
label(1054, 2087, 'Pseudotime')

fig.savefig('out.png', dpi=100)
